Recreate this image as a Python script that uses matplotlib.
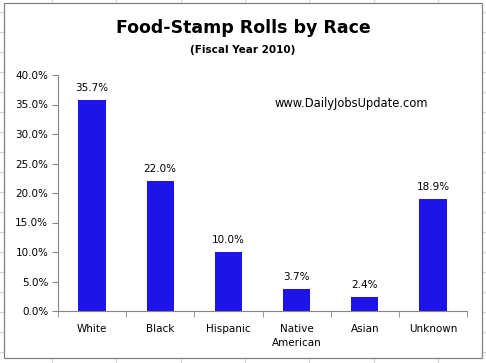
import numpy as np
import matplotlib.pyplot as plt
from matplotlib.patches import Rectangle

races = ['White', 'Black', 'Hispanic', 'Native\nAmerican', 'Asian', 'Unknown']
shares = [35.7, 22.0, 10.0, 3.7, 2.4, 18.9]
yticks = [0, 5, 10, 15, 20, 25, 30, 35, 40]

fig = plt.figure(figsize=(4.86, 3.63), dpi=100)
fig.patch.set_facecolor('white')

# spreadsheet grid behind the chart
for xg in np.arange(52, 486, 64.3):
    fig.add_artist(plt.Line2D([xg / 486, xg / 486], [0, 1], color='#d4d4d4', lw=0.8, zorder=0))
for yg in np.arange(12, 363, 20):
    fig.add_artist(plt.Line2D([0, 1], [1 - yg / 363, 1 - yg / 363], color='#d4d4d4', lw=0.8, zorder=0))

# chart area
fig.add_artist(Rectangle((4 / 486, 1 - 358 / 363), 478 / 486, 355 / 363,
                         transform=fig.transFigure, facecolor='white',
                         edgecolor='#808080', lw=0.9, zorder=1))

ax = fig.add_axes([58 / 486, 1 - 311 / 363, 409 / 486, 236 / 363])
ax.set_facecolor('none')
ax.set_zorder(2)

x = np.arange(len(races))
ax.bar(x, shares, width=0.4, color='#1c14e8')
for xi, v in zip(x, shares):
    ax.text(xi, v + 1.2, '%.1f%%' % v, ha='center', va='bottom', fontsize=7.5)

ax.set_xlim(-0.5, len(races) - 0.5)
ax.set_ylim(0, 40)
ax.set_yticks(yticks)
ax.set_yticklabels(['%.1f%%' % t for t in yticks], fontsize=7.5)
ax.set_xticks(x)
ax.set_xticklabels(races, fontsize=7.5, linespacing=1.5)
ax.set_xticks(np.arange(-0.5, len(races)), minor=True)
ax.tick_params(axis='x', which='major', length=0, pad=9)
ax.tick_params(axis='x', which='minor', length=4, color='#868686')
ax.tick_params(axis='y', length=4, color='#868686', pad=3)
for s in ['top', 'right']:
    ax.spines[s].set_visible(False)
for s in ['left', 'bottom']:
    ax.spines[s].set_color('#868686')

fig.text(0.5, 1 - 28 / 363, 'Food-Stamp Rolls by Race', ha='center', va='center',
         fontsize=12.5, fontweight='bold', zorder=3)
fig.text(0.5, 1 - 50 / 363, '(Fiscal Year 2010)', ha='center', va='center',
         fontsize=7.5, fontweight='bold', zorder=3)
fig.text(351 / 486, 1 - 103 / 363, 'www.DailyJobsUpdate.com', ha='center', va='center',
         fontsize=8.3, zorder=3)

fig.savefig('out.png', dpi=100)
